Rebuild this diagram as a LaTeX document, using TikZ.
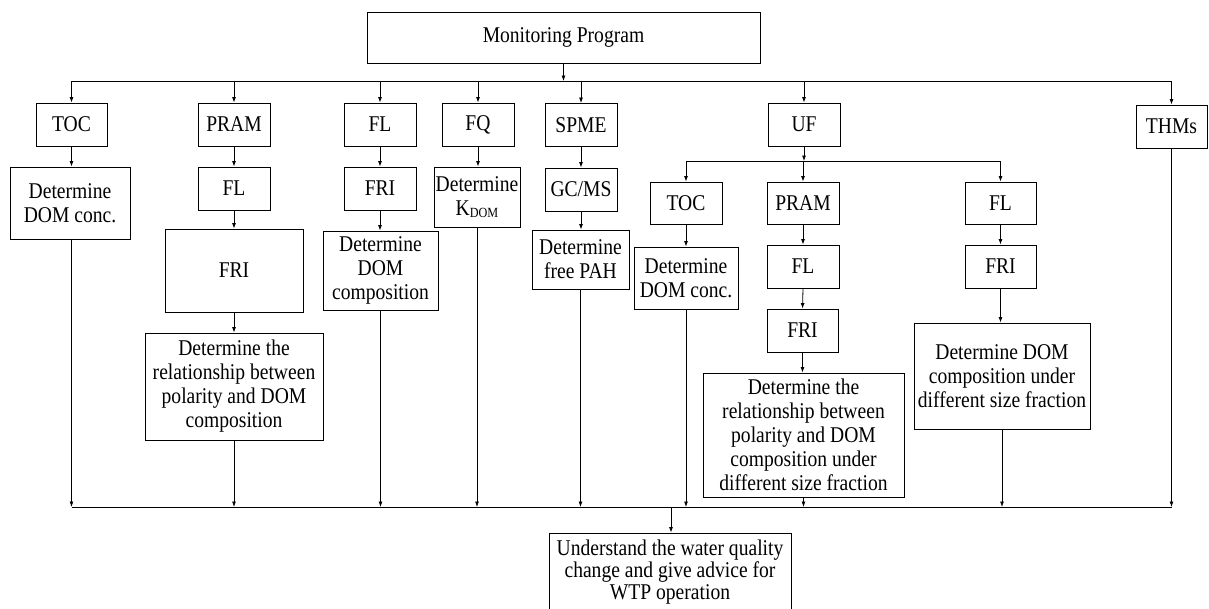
\documentclass[tikz,border=0pt]{standalone}
\usepackage{fontspec}
\setmainfont{Liberation Serif}[FakeStretch=0.87]
\usetikzlibrary{arrows.meta}
\tikzset{
  bx/.style={draw, line width=0.9pt, inner sep=0pt, align=center,
    font=\fontsize{22.5}{24}\selectfont},
  arr/.style={line width=0.8pt, -{Latex[length=5.5pt,width=4pt]}},
  ln/.style={line width=0.8pt},
}
\newcommand{\subdom}{\raisebox{-2.5pt}{\fontsize{14}{14}\selectfont DOM}}
\begin{document}
\begin{tikzpicture}[x=1pt,y=-1pt]
\useasboundingbox (0,0) rectangle (1209,608);
% top
\node[bx, minimum width=393pt, minimum height=51pt] (mon) at (563.5,37.5) {Monitoring Program};
% first row
\node[bx, minimum width=71pt, minimum height=43pt] (toc) at (71.5,124.5) {TOC};
\node[bx, minimum width=72pt, minimum height=43pt] (pram) at (234,124.5) {PRAM};
\node[bx, minimum width=72pt, minimum height=43pt] (fl) at (380,124.5) {FL};
\node[bx, minimum width=72pt, minimum height=43pt] (fq) at (478,124.5) {FQ};
\node[bx, minimum width=72pt, minimum height=43pt] (spme) at (581,125) {SPME};
\node[bx, minimum width=72pt, minimum height=43pt] (uf) at (804,124.5) {UF};
\node[bx, minimum width=71pt, minimum height=43pt] (thms) at (1171.5,126.5) {THMs};
% second row
\node[bx, minimum width=120pt, minimum height=72pt] (dtoc) at (70,203) {Determine\\DOM conc.};
\node[bx, minimum width=72pt, minimum height=43pt] (pfl) at (234,188.5) {FL};
\node[bx, minimum width=72pt, minimum height=43pt] (ffri) at (380,188.5) {FRI};
\node[bx, minimum width=86pt, minimum height=60pt] (kdom) at (477,197) {Determine\\K\subdom};
\node[bx, minimum width=72pt, minimum height=43pt] (gcms) at (581,189.5) {GC/MS};
% UF sub tree
\node[bx, minimum width=72pt, minimum height=42pt] (uftoc) at (686,203) {TOC};
\node[bx, minimum width=72pt, minimum height=42pt] (ufpram) at (803,203) {PRAM};
\node[bx, minimum width=71pt, minimum height=42pt] (uffl) at (1000.5,203) {FL};
\node[bx, minimum width=104pt, minimum height=62pt] (ufdtoc) at (686,278) {Determine\\DOM conc.};
\node[bx, minimum width=72pt, minimum height=43pt] (ufpfl) at (803,266.5) {FL};
\node[bx, minimum width=71pt, minimum height=43pt] (uffri) at (1000.5,266.5) {FRI};
\node[bx, minimum width=71pt, minimum height=43pt] (ufpfri) at (802.5,330.5) {FRI};
\node[bx, minimum width=201pt, minimum height=124pt] (ufrel) at (803.5,435) {Determine the\\relationship between\\polarity and DOM\\composition under\\different size fraction};
\node[bx, minimum width=176pt, minimum height=106pt] (ufcomp) at (1002,376) {Determine DOM\\composition under\\different size fraction};
% third row
\node[bx, minimum width=138pt, minimum height=83pt] (pfri) at (234,270.5) {FRI};
\node[bx, minimum width=115pt, minimum height=79pt] (fcomp) at (380.5,270.5) {Determine\\DOM\\composition};
\node[bx, minimum width=97pt, minimum height=59pt] (pah) at (580.5,259.5) {Determine\\free PAH};
\node[bx, minimum width=178pt, minimum height=107pt] (prel) at (234,386.5) {Determine the\\relationship between\\polarity and DOM\\composition};
% final
\node[bx, font=\fontsize{22.5}{22}\selectfont, minimum width=242pt, minimum height=79pt] (final) at (670,572.5) {Understand the water quality\\change and give advice for\\WTP operation};
% coordinates
\coordinate (tb) at (564,81);
\coordinate (ub) at (804,161);
\coordinate (bb) at (671,507);
% top bus
\draw[arr] (mon.south) -- (mon.south |- tb);
\draw[ln] (toc.north |- tb) -- (thms.north |- tb);
\foreach \n in {toc,pram,fl,fq,spme,uf,thms}
  \draw[arr] (\n.north |- tb) -- (\n.north);
% column chains
\draw[arr] (toc.south) -- (toc.south |- dtoc.north);
\draw[arr] (pram.south) -- (pfl.north);
\draw[arr] (pfl.south) -- (pfri.north);
\draw[arr] (pfri.south) -- (prel.north);
\draw[arr] (fl.south) -- (ffri.north);
\draw[arr] (ffri.south) -- (ffri.south |- fcomp.north);
\draw[arr] (fq.south) -- (fq.south |- kdom.north);
\draw[arr] (spme.south) -- (gcms.north);
\draw[arr] (gcms.south) -- (gcms.south |- pah.north);
% UF sub bus
\draw[arr] (uf.south) -- (uf.south |- ub);
\draw[ln] (uftoc.north |- ub) -- (uffl.north |- ub);
\foreach \n in {uftoc,ufpram,uffl}
  \draw[arr] (\n.north |- ub) -- (\n.north);
\draw[arr] (uftoc.south) -- (ufdtoc.north);
\draw[arr] (ufpram.south) -- (ufpfl.north);
\draw[arr] (ufpfl.south) -- (ufpfri.north);
\draw[arr] (ufpfri.south) -- (ufpfri.south |- ufrel.north);
\draw[arr] (uffl.south) -- (uffri.north);
\draw[arr] (uffri.south) -- (uffri.south |- ufcomp.north);
% bottom bus
\draw[ln] (toc.south |- bb) -- (thms.south |- bb);
\foreach \n in {prel,fcomp,kdom,pah,ufdtoc,ufrel,ufcomp,thms}
  \draw[arr] (\n.south) -- (\n.south |- bb);
\draw[arr] (dtoc.south -| toc.south) -- (toc.south |- bb);
\draw[arr] (bb) -- (bb |- final.north);
\end{tikzpicture}
\end{document}
